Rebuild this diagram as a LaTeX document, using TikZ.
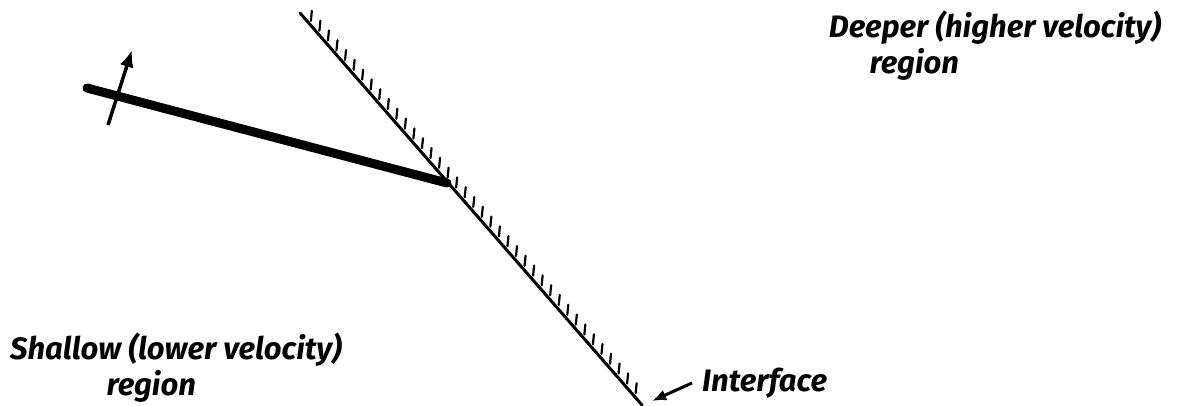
\documentclass[tikz,border=0pt]{standalone}
\usepackage{fontspec}
\setmainfont{Fira Sans}
\usetikzlibrary{arrows.meta,positioning,calc}
\tikzset{
    interfaceline/.style={line width=3pt, line cap=round},
    hatchtick/.style={line width=2.2pt, line cap=round},
    wavefront/.style={line width=9pt, line cap=round},
    normalarrow/.style={-{Latex[length=6mm, width=5mm]}, line width=3.5pt},
    labelarrow/.style={-{Latex[length=5mm, width=4mm]}, line width=3pt},
    regionlabel/.style={align=center, inner sep=0pt, font=\fontsize{31}{36}\selectfont\bfseries\itshape}
}

\begin{document}
\begin{tikzpicture}[x=1pt, y=-1pt]
    \useasboundingbox (0,0) rectangle (1190,405);

    % interface with hatching on the deeper side
    \coordinate (ifTop) at (300,13);
    \coordinate (ifBot) at (642,405);
    \draw[interfaceline] (ifTop) -- (ifBot);
    \foreach \t in {0.02,0.045,...,0.99}
        \draw[hatchtick] ($(ifTop)!\t!(ifBot)$) ++(4,0) -- ++(1,-10);

    % wavefront and its normal
    \coordinate (wfL) at (87,88);
    \coordinate (wfR) at (447,183);
    \draw[wavefront] (wfL) -- (wfR);
    \coordinate (arrTail) at (108,125);
    \coordinate (arrTip) at (132,50);
    \draw[normalarrow] (arrTail) -- (arrTip);

    % labels
    \node[regionlabel] (deep) at (995,46) {Deeper (higher velocity)\\\hspace*{-5.2em}region};
    \node[regionlabel] (shallow) at (176,368) {Shallow (lower velocity)\\\hspace*{-1.6em}region};
    \node[regionlabel, anchor=west] (iflabel) at (702,383) {Interface};
    \coordinate (ifPoint) at (652,401);
    \draw[labelarrow] ([xshift=-10pt]iflabel.west) -- (ifPoint);
\end{tikzpicture}
\end{document}
